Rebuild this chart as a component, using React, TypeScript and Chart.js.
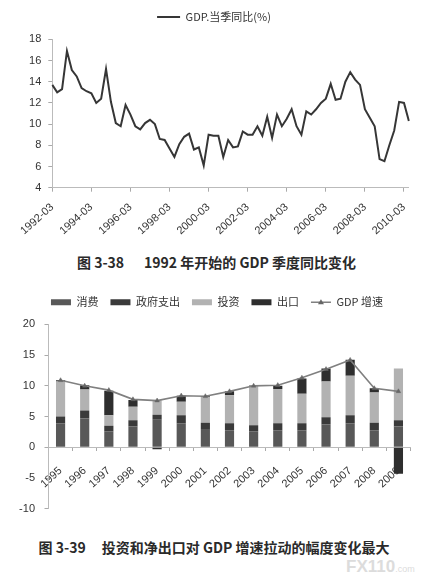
import React, { useEffect, useRef } from 'react';
import { Chart, registerables, layouts } from 'chart.js';

Chart.register(...registerables);

// ---------- Chart 1 data: GDP quarterly YoY ----------
const quarterLabels: string[] = [
  '1992-03', '1992-06', '1992-09', '1992-12', '1993-03', '1993-06', '1993-09', '1993-12',
  '1994-03', '1994-06', '1994-09', '1994-12', '1995-03', '1995-06', '1995-09', '1995-12',
  '1996-03', '1996-06', '1996-09', '1996-12', '1997-03', '1997-06', '1997-09', '1997-12',
  '1998-03', '1998-06', '1998-09', '1998-12', '1999-03', '1999-06', '1999-09', '1999-12',
  '2000-03', '2000-06', '2000-09', '2000-12', '2001-03', '2001-06', '2001-09', '2001-12',
  '2002-03', '2002-06', '2002-09', '2002-12', '2003-03', '2003-06', '2003-09', '2003-12',
  '2004-03', '2004-06', '2004-09', '2004-12', '2005-03', '2005-06', '2005-09', '2005-12',
  '2006-03', '2006-06', '2006-09', '2006-12', '2007-03', '2007-06', '2007-09', '2007-12',
  '2008-03', '2008-06', '2008-09', '2008-12', '2009-03', '2009-06', '2009-09', '2009-12',
  '2010-03', '2010-06',
];

const gdpQuarterly: number[] = [
  13.7, 13.0, 13.3, 16.9, 15.1, 14.5, 13.4, 13.1,
  12.9, 12.0, 12.4, 15.2, 12.1, 10.1, 9.8, 11.8,
  10.9, 9.8, 9.5, 10.1, 10.4, 10.0, 8.6, 8.5,
  7.7, 6.9, 8.1, 8.8, 9.1, 7.6, 7.8, 6.1,
  9.0, 8.9, 8.9, 6.9, 8.5, 7.8, 7.9, 9.3,
  9.0, 9.0, 9.8, 8.9, 10.7, 8.7, 10.9, 9.8,
  10.5, 11.4, 9.8, 9.0, 11.2, 10.9, 11.4, 12.0,
  12.4, 13.8, 12.3, 12.4, 14.0, 14.9, 14.2, 13.7,
  11.4, 10.6, 9.8, 6.7, 6.5, 8.0, 9.4, 12.1,
  12.0, 10.3,
];

const quarterTickLabels: string[] = [
  '1992-03', '1994-03', '1996-03', '1998-03', '2000-03',
  '2002-03', '2004-03', '2006-03', '2008-03', '2010-03',
];

const lineSeriesName = 'GDP.当季同比(%)';

// ---------- Chart 2 data: contributions to GDP growth ----------
const years: string[] = [
  '1995', '1996', '1997', '1998', '1999', '2000', '2001', '2002',
  '2003', '2004', '2005', '2006', '2007', '2008', '2009',
];
const consumption: number[] = [3.9, 4.7, 2.6, 3.4, 4.5, 3.9, 3.0, 2.8, 2.6, 2.8, 2.8, 3.7, 3.9, 2.8, 3.4];
const government: number[] = [1.1, 1.3, 0.9, 1.0, 0.8, 1.3, 1.0, 1.1, 1.0, 1.1, 1.1, 1.2, 1.3, 1.2, 1.0];
const investment: number[] = [5.7, 3.4, 1.7, 2.2, 2.35, 2.2, 4.2, 4.55, 6.4, 5.6, 4.8, 5.8, 6.45, 4.9, 8.4];
const netExport: number[] = [0.2, 0.7, 4.0, 1.1, -0.3, 1.0, 0.1, 0.65, 0.1, 0.5, 2.5, 2.1, 2.6, 0.7, -4.3];
const gdpGrowth: number[] = [10.9, 10.0, 9.3, 7.8, 7.6, 8.4, 8.3, 9.1, 10.0, 10.1, 11.3, 12.7, 14.2, 9.6, 9.1];
const barSeriesNames = ['消费', '政府支出', '投资', '出口'];
const growthSeriesName = 'GDP 增速';

const TICK_FONT = { family: "'Liberation Sans', Arial, sans-serif", size: 11 };
const CJK_FONT = "'Noto Sans CJK SC', 'Liberation Serif', serif";

function spacer(id: string, position: 'top' | 'right', size: number) {
  return {
    id,
    beforeInit(chart: any) {
      const box: any = {
        position,
        weight: 500,
        fullSize: false,
        options: {},
        left: 0, top: 0, right: 0, bottom: 0, width: 0, height: 0,
        isHorizontal() {
          return position === 'top';
        },
        update(maxWidth: number, maxHeight: number) {
          if (position === 'top') {
            box.width = maxWidth;
            box.height = size;
          } else {
            box.width = size;
            box.height = maxHeight;
          }
        },
        draw() {},
      };
      layouts.addBox(chart, box);
    },
  };
}

const legendTriangle = {
  id: 'legendTriangle',
  afterDraw(chart: any) {
    const lg = chart.legend;
    if (!lg || !lg.legendHitBoxes) return;
    const idx = chart.data.datasets.findIndex((d: any) => d.type === 'line');
    const hb = lg.legendHitBoxes[idx];
    if (!hb) return;
    const bw = lg.options.labels.pointStyleWidth || 20;
    const cx = hb.left + bw / 2;
    const cy = hb.top + 11 / 2;
    const ctx = chart.ctx;
    ctx.save();
    ctx.fillStyle = '#666';
    ctx.beginPath();
    ctx.moveTo(cx, cy - 3);
    ctx.lineTo(cx + 3, cy + 2);
    ctx.lineTo(cx - 3, cy + 2);
    ctx.closePath();
    ctx.fill();
    ctx.restore();
  },
};

function LineChart() {
  const ref = useRef<HTMLCanvasElement | null>(null);
  useEffect(() => {
    if (!ref.current) return;
    const chart = new Chart(ref.current, {
      type: 'line',
      data: {
        labels: quarterLabels,
        datasets: [
          {
            label: lineSeriesName,
            data: gdpQuarterly,
            borderColor: '#363636',
            borderWidth: 2,
            pointRadius: 0,
            tension: 0,
            fill: false,
          },
        ],
      },
      options: {
        responsive: false,
        animation: false,
        layout: { padding: { top: 3.5, left: 6, right: 0, bottom: 0 } },
        plugins: {
          tooltip: { enabled: false },
          legend: {
            display: true,
            position: 'top',
            labels: {
              usePointStyle: true,
              pointStyleWidth: 23,
              boxHeight: 11,
              padding: 8,
              color: '#333',
              font: { family: CJK_FONT, size: 11 },
              generateLabels: (c: any) =>
                c.data.datasets.map((ds: any, i: number) => ({
                  text: ds.label,
                  fillStyle: '#363636',
                  strokeStyle: '#363636',
                  lineWidth: 2,
                  pointStyle: 'line',
                  hidden: false,
                  datasetIndex: i,
                  fontColor: '#333',
                })),
            },
          },
        },
        scales: {
          x: {
            type: 'category',
            offset: false,
            afterBuildTicks: (scale: any) => {
              scale.ticks = scale.ticks.filter((t: any) => quarterTickLabels.includes(quarterLabels[t.value]));
            },
            afterFit: (scale: any) => {
              scale.height = 57.3;
            },
            ticks: {
              autoSkip: false,
              minRotation: 42,
              maxRotation: 42,
              font: TICK_FONT,
              color: '#333',
              padding: 9,
            },
            grid: { display: true, drawOnChartArea: false, drawTicks: true, tickLength: 4, color: '#aaa' },
            border: { display: true, color: '#bbb', width: 1 },
          },
          y: {
            min: 4,
            max: 18,
            afterFit: (scale: any) => {
              scale.width = 46.3;
            },
            ticks: { stepSize: 2, font: TICK_FONT, color: '#333', padding: 7 },
            grid: { display: true, drawOnChartArea: false, drawTicks: true, tickLength: 4, color: '#aaa' },
            border: { display: true, color: '#bbb', width: 1 },
          },
        },
      },
      plugins: [spacer('topSpacer', 'top', 6.8), spacer('rightSpacer', 'right', 13)],
    } as any);
    return () => chart.destroy();
  }, []);
  return <canvas ref={ref} width={422} height={245} style={{ position: 'absolute', left: 0, top: 0, width: 422, height: 245 }} />;
}

function BarChart() {
  const ref = useRef<HTMLCanvasElement | null>(null);
  useEffect(() => {
    if (!ref.current) return;
    const barColors = ['#585858', '#3a3a3a', '#b2b2b2', '#2e2e2e'];
    const barSeries = [consumption, government, investment, netExport];
    const chart = new Chart(ref.current, {
      type: 'bar',
      data: {
        labels: years,
        datasets: [
          ...barSeries.map((d, i) => ({
            type: 'bar',
            label: barSeriesNames[i],
            data: d,
            backgroundColor: barColors[i],
            borderWidth: 0,
            stack: 'parts',
            order: 2,
            categoryPercentage: 1,
            barPercentage: 0.38,
          })),
          {
            type: 'line',
            label: growthSeriesName,
            data: gdpGrowth,
            borderColor: '#808080',
            borderWidth: 1.6,
            pointStyle: 'triangle',
            pointRadius: 2.6,
            pointBackgroundColor: '#666',
            pointBorderColor: '#666',
            pointBorderWidth: 0.5,
            tension: 0,
            fill: false,
            stack: 'growth',
            order: 1,
          },
        ],
      },
      options: {
        responsive: false,
        animation: false,
        layout: { padding: { top: 4.8, left: 12, right: 0, bottom: 0 } },
        plugins: {
          tooltip: { enabled: false },
          legend: {
            display: true,
            position: 'top',
            labels: {
              usePointStyle: true,
              pointStyleWidth: 20,
              boxHeight: 6,
              padding: 12,
              color: '#333',
              font: { family: CJK_FONT, size: 11 },
              generateLabels: (c: any) =>
                c.data.datasets.map((ds: any, i: number) =>
                  ds.type === 'line'
                    ? {
                        text: ds.label,
                        fillStyle: '#808080',
                        strokeStyle: '#808080',
                        lineWidth: 1.6,
                        pointStyle: 'line',
                        hidden: false,
                        datasetIndex: i,
                        fontColor: '#333',
                      }
                    : {
                        text: ds.label,
                        fillStyle: ds.backgroundColor,
                        strokeStyle: ds.backgroundColor,
                        lineWidth: 0,
                        pointStyle: 'rect',
                        hidden: false,
                        datasetIndex: i,
                        fontColor: '#333',
                      }
                ),
            },
          },
        },
        scales: {
          x: {
            type: 'category',
            stacked: true,
            offset: true,
            position: { y: 0 },
            afterFit: (scale: any) => {
              scale.height = 10.7;
            },
            ticks: {
              autoSkip: false,
              minRotation: 42,
              maxRotation: 42,
              font: TICK_FONT,
              color: '#333',
              padding: 14,
            },
            grid: { display: true, offset: true, drawOnChartArea: false, drawTicks: true, tickLength: 3, color: '#aaa' },
            border: { display: true, color: '#bbb', width: 1 },
          },
          y: {
            stacked: true,
            min: -10,
            max: 20,
            afterFit: (scale: any) => {
              scale.width = 36.5;
            },
            ticks: { stepSize: 5, font: TICK_FONT, color: '#333', padding: 9.5 },
            grid: { display: true, drawOnChartArea: false, drawTicks: true, tickLength: 4, color: '#aaa' },
            border: { display: true, color: '#bbb', width: 1 },
          },
        },
      },
      plugins: [spacer('topSpacer', 'top', 6.5), spacer('rightSpacer', 'right', 11.5), legendTriangle],
    } as any);
    return () => chart.destroy();
  }, []);
  return <canvas ref={ref} width={422} height={245} style={{ position: 'absolute', left: 0, top: 280, width: 422, height: 245 }} />;
}

const captionStyle: React.CSSProperties = {
  position: 'absolute',
  left: 0,
  textAlign: 'center',
  fontFamily: "'Noto Sans CJK SC', sans-serif",
  fontWeight: 700,
  fontSize: 14,
  lineHeight: '20px',
  color: '#2a2a2a',
  whiteSpace: 'nowrap',
};

export default function App() {
  return (
    <div style={{ position: 'absolute', left: 0, top: 0, width: 422, height: 587, background: '#fff', overflow: 'hidden' }}>
      <LineChart />
      <div style={{ ...captionStyle, top: 252, width: 433 }}>
        图 3-38<span style={{ display: 'inline-block', width: 20 }} />1992 年开始的 GDP 季度同比变化
      </div>
      <BarChart />
      <div style={{ ...captionStyle, top: 537, width: 428 }}>
        图 3-39<span style={{ display: 'inline-block', width: 16 }} />投资和净出口对 GDP 增速拉动的幅度变化最大
      </div>
      <div
        style={{
          position: 'absolute',
          left: 346,
          top: 558,
          color: '#dcdcdc',
          fontFamily: "'Liberation Sans', Arial, sans-serif",
          fontWeight: 700,
          lineHeight: '18px',
          whiteSpace: 'nowrap',
        }}
      >
        <span style={{ fontSize: 17 }}>FX110</span>
        <span style={{ fontSize: 9, fontWeight: 400 }}>.com</span>
      </div>
    </div>
  );
}
